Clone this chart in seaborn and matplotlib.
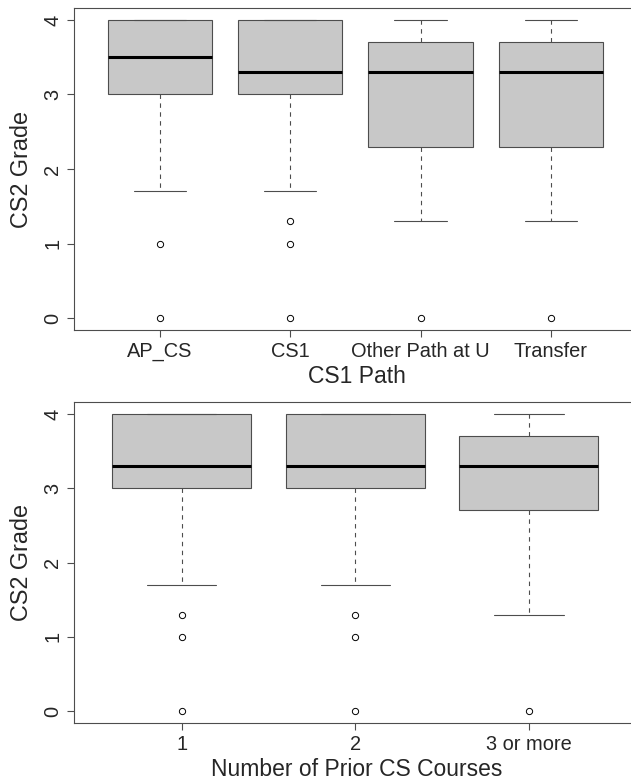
import pandas as pd
import matplotlib
matplotlib.use("Agg")
import matplotlib.pyplot as plt
import seaborn as sns

sns.set_style("white")
plt.rcParams["font.family"] = ["Liberation Sans", "DejaVu Sans"]
plt.rcParams["font.size"] = 14.4

path_order = ["AP_CS", "CS1", "Other Path at U", "Transfer"]
grades_ap_cs = [0.0, 1.0, 1.7, 3.0, 3.0, 3.3, 3.5, 3.7, 4.0, 4.0, 4.0, 4.0, 4.0]
grades_cs1 = [0.0, 1.0, 1.3, 1.7, 3.0, 3.0, 3.3, 3.3, 3.3, 3.7, 3.7, 4.0, 4.0, 4.0, 4.0, 4.0, 4.0]
grades_other = [0.0, 1.3, 2.0, 2.3, 2.7, 3.0, 3.3, 3.3, 3.7, 3.7, 4.0, 4.0, 4.0]
grades_transfer = [0.0, 1.3, 2.0, 2.3, 2.7, 3.0, 3.3, 3.3, 3.7, 3.7, 4.0, 4.0, 4.0]

# CS2 grades by number of prior CS courses
prior_order = ["1", "2", "3 or more"]
grades_prior1 = [0.0, 1.0, 1.3, 1.7, 3.0, 3.0, 3.3, 3.3, 3.3, 3.7, 3.7, 4.0, 4.0, 4.0, 4.0, 4.0, 4.0]
grades_prior2 = [0.0, 1.0, 1.3, 1.7, 3.0, 3.0, 3.3, 3.3, 3.3, 3.7, 3.7, 4.0, 4.0, 4.0, 4.0, 4.0, 4.0]
grades_prior3 = [0.0, 1.3, 2.0, 2.7, 3.0, 3.0, 3.3, 3.3, 3.7, 3.7, 4.0, 4.0, 4.0]

df_path = pd.concat([
    pd.DataFrame({"path": name, "grade": vals})
    for name, vals in zip(path_order, [grades_ap_cs, grades_cs1, grades_other, grades_transfer])
])
df_prior = pd.concat([
    pd.DataFrame({"prior": name, "grade": vals})
    for name, vals in zip(prior_order, [grades_prior1, grades_prior2, grades_prior3])
])

W, H = 631, 782
fig = plt.figure(figsize=(W / 100, H / 100), dpi=100)
ax1 = fig.add_axes([74 / W, (H - 330) / H, (640 - 74) / W, 322 / H])
ax2 = fig.add_axes([74 / W, (H - 723) / H, (640 - 74) / W, 321 / H])

edge = "#4d4d4d"
box_kws = dict(
    color="#c8c8c8", saturation=1, width=0.8, whis=1.5, linecolor=edge, linewidth=0.8,
    medianprops=dict(color="black", linewidth=2.2),
    whiskerprops=dict(color=edge, linestyle=(0, (4, 4)), linewidth=0.8),
    capprops=dict(color=edge, linewidth=0.8),
    flierprops=dict(marker="o", markersize=4.5, markerfacecolor="white",
                    markeredgecolor="black", markeredgewidth=0.7),
)

sns.boxplot(data=df_path, x="path", y="grade", order=path_order, ax=ax1, **box_kws)
sns.boxplot(data=df_prior, x="prior", y="grade", order=prior_order, ax=ax2, **box_kws)

ax1.set_xlim(-0.66, 3 + (640 - 551) / 130)
ax2.set_xlim(-0.62, 2 + (640 - 529) / 173.5)
ax1.set_xlabel("CS1 Path", fontsize=16.5, labelpad=3)
ax2.set_xlabel("Number of Prior CS Courses", fontsize=16.5, labelpad=3)

for ax in (ax1, ax2):
    ax.set_ylim(-0.16, 4.16)
    ax.set_yticks([0, 1, 2, 3, 4])
    ax.set_ylabel("CS2 Grade", fontsize=16.8, labelpad=7)
    ax.tick_params(axis="both", length=5, width=0.8, color=edge, pad=3.6,
                   labelsize=14.4, left=True, bottom=True)
    plt.setp(ax.get_yticklabels(), rotation=90, va="center")
    for s in ax.spines.values():
        s.set_visible(True)
        s.set_color(edge)
        s.set_linewidth(0.8)

fig.savefig("out.png", dpi=100)
